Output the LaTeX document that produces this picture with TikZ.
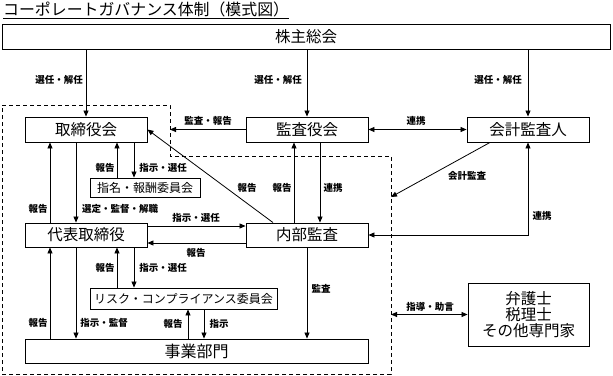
\documentclass[tikz,border=0pt]{standalone}
\usepackage{fontspec}
\setmainfont{Noto Sans CJK JP}
\usetikzlibrary{arrows.meta}
\tikzset{
  nd_box/.style={rectangle,draw=black,line width=0.9pt,fill=white,inner sep=0pt,minimum width=122pt,minimum height=25pt,font=\fontsize{15.5}{16}\selectfont},
  nd_sub/.style={nd_box,minimum height=19pt,font=\fontsize{12}{13}\selectfont},
  nd_lbl/.style={inner sep=0pt,font=\fontsize{9.5}{10}\selectfont\bfseries},
  arr/.style={-{Triangle[length=6pt,width=5pt]},line width=0.8pt},
  arr2/.style={{Triangle[length=6pt,width=5pt]}-{Triangle[length=6pt,width=5pt]},line width=0.8pt},
  grp/.style={dash pattern=on 4pt off 3pt,line width=0.9pt},
}
\begin{document}
\begin{tikzpicture}[x=1pt,y=-1pt]
\useasboundingbox (0,0) rectangle (613,375);
% title
\node[anchor=west,inner sep=0pt,font=\fontsize{15.9}{16}\selectfont] at (3,9.5)(T){コーポレートガバナンス体制（模式図）};
\draw[line width=0.9pt]([yshift=-1pt]T.south west)--([yshift=-1pt]T.south east);
% boxes
\node[nd_box,minimum width=608pt] at (306,36.5)(GM){株主総会};
\node[nd_box] at (86,129.5)(BD){取締役会};
\node[nd_box] at (307,129.5)(AB){監査役会};
\node[nd_box] at (528,129.5)(CA){会計監査人};
\node[nd_sub,minimum width=110pt] at (145,187.5)(NC){指名・報酬委員会};
\node[nd_box,minimum height=24pt] at (86,235)(RD){代表取締役};
\node[nd_box,minimum height=24pt] at (307,235)(IA){内部監査};
\node[nd_sub,minimum width=187pt,minimum height=21pt] at (183.5,298.5)(RC){リスク・コンプライアンス委員会};
\node[nd_box,minimum width=343pt,minimum height=24pt,font=\fontsize{16}{17}\selectfont] at (196.5,351)(BU){事業部門};
\node[nd_box,minimum width=121pt,minimum height=63pt,align=center] at (528.5,314.5)(EX){弁護士\\税理士\\その他専門家};
% company group
\draw[grp](2,105)--(170,105)--(170,156)--(391,156)--(391,374)--(2,374)--cycle;
\coordinate (gT) at (170,129.5);
\coordinate (gR1) at (391,197);
\coordinate (gR2) at (391,314.5);
% arrows
\foreach \n in {BD,AB,CA}{\draw[arr](GM.south -| \n)--(\n.north);}
\draw[arr](AB.west)--(gT);
\draw[arr2](AB.east)--(CA.west);
\draw[arr](CA.south -| 490,0)--(gR1);
\draw[arr2](CA.south)|-(IA.east);
\draw[arr](IA.north -| 273,0)--(BD.east);
\foreach \x/\a/\b in {50/RD/BD,117/NC/BD,294/IA/AB,117/RC/RD,50/BU/RD,188/BU/RC}{\draw[arr](\a.north -| \x,0)--(\b.south -| \x,0);}
\foreach \x/\a/\b in {76/BD/RD,134/BD/NC,320/AB/IA,134/RD/RC,76/RD/BU,204/RC/BU,307/IA/BU}{\draw[arr](\a.south -| \x,0)--(\b.north -| \x,0);}
\draw[arr](RD.east |- 0,226)--(IA.west |- 0,226);
\draw[arr](IA.west |- 0,243)--(RD.east |- 0,243);
\draw[arr2](gR2)--(EX.west);
% labels
\node[nd_lbl] at (59,80)(l1){選任・解任};
\node[nd_lbl] at (278,80)(l2){選任・解任};
\node[nd_lbl] at (498,80)(l3){選任・解任};
\node[nd_lbl] at (208,121)(l4){監査・報告};
\node[nd_lbl] at (416,121)(l5){連携};
\node[nd_lbl] at (105,168)(l6){報告};
\node[nd_lbl] at (163,168)(l7){指示・選任};
\node[nd_lbl] at (38,209)(l8){報告};
\node[nd_lbl] at (120,209)(l9){選定・監督・解職};
\node[nd_lbl] at (247,188)(l10){報告};
\node[nd_lbl] at (282,188)(l11){報告};
\node[nd_lbl] at (333,188)(l12){連携};
\node[nd_lbl] at (467,176)(l13){会計監査};
\node[nd_lbl] at (542,216)(l14){連携};
\node[nd_lbl] at (196,218)(l15){指示・選任};
\node[nd_lbl] at (196,253)(l16){報告};
\node[nd_lbl] at (105,268)(l17){報告};
\node[nd_lbl] at (163,268)(l18){指示・選任};
\node[nd_lbl] at (321,289)(l19){監査};
\node[nd_lbl] at (430,307)(l20){指導・助言};
\node[nd_lbl] at (38,323)(l21){報告};
\node[nd_lbl] at (104,323)(l22){指示・監督};
\node[nd_lbl] at (173,324)(l23){報告};
\node[nd_lbl] at (219,324)(l24){指示};
\end{tikzpicture}
\end{document}
